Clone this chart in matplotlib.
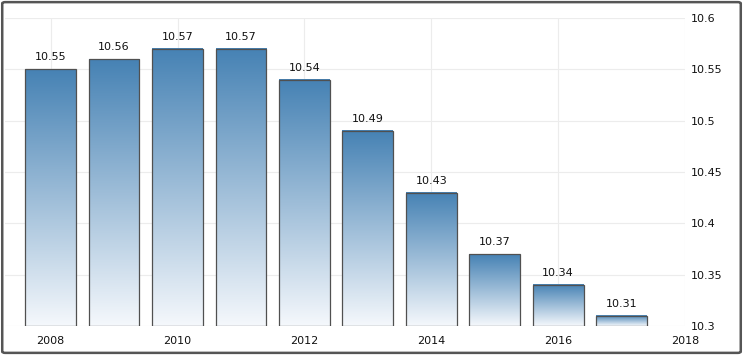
import matplotlib.pyplot as plt
import numpy as np
from matplotlib.patches import FancyBboxPatch
from matplotlib.colors import LinearSegmentedColormap

# data
years = [2008, 2009, 2010, 2011, 2012, 2013, 2014, 2015, 2016, 2017]
values = [10.55, 10.56, 10.57, 10.57, 10.54, 10.49, 10.43, 10.37, 10.34, 10.31]
y_ticks = [10.3, 10.35, 10.4, 10.45, 10.5, 10.55, 10.6]
x_ticks = [2008, 2010, 2012, 2014, 2016, 2018]

ymin, ymax = 10.3, 10.6

fig = plt.figure(figsize=(7.43, 3.55), dpi=100)
ax = fig.add_axes([5 / 743, 29 / 355, 680 / 743, 308 / 355])

bars = ax.bar(years, [v - ymin for v in values], bottom=ymin, width=0.8,
              facecolor='none', edgecolor='#505050', linewidth=0.9, zorder=3)

# vertical gradient inside each bar: steelblue at top -> near white at bottom
grad = np.linspace(0, 1, 256).reshape(-1, 1)
cmap = LinearSegmentedColormap.from_list('bluefade', ['#f5f8fc', '#4682b4'])
for b in bars:
    x0, y0 = b.get_x(), b.get_y()
    ax.imshow(grad, cmap=cmap, aspect='auto', origin='lower',
              extent=[x0, x0 + b.get_width(), y0, y0 + b.get_height()], zorder=2)

for yr, v in zip(years, values):
    ax.annotate(f'{v:.2f}', (yr, v), xytext=(0, 5), textcoords='offset points',
                ha='center', va='bottom', fontsize=8, color='#111111')

ax.set_xlim(2007.28, 2018)
ax.set_ylim(ymin, ymax)
ax.set_xticks(x_ticks)
ax.set_xticklabels([str(t) for t in x_ticks], fontsize=8)
ax.set_yticks(y_ticks)
ax.set_yticklabels([f'{t:g}' for t in y_ticks], fontsize=8)
ax.yaxis.tick_right()
ax.tick_params(axis='both', length=0, colors='#111111')
ax.tick_params(axis='y', pad=4)
ax.tick_params(axis='x', pad=7)
ax.grid(True, color='#ececec', linewidth=0.8, zorder=0)
ax.set_axisbelow(True)
for s in ax.spines.values():
    s.set_visible(False)

fig.patches.append(FancyBboxPatch((0.003, 0.006), 0.994, 0.988,
                                  boxstyle='round,pad=0,rounding_size=0.004',
                                  transform=fig.transFigure, facecolor='none',
                                  edgecolor='#555555', linewidth=1.8))

fig.savefig('out.png', dpi=100)
